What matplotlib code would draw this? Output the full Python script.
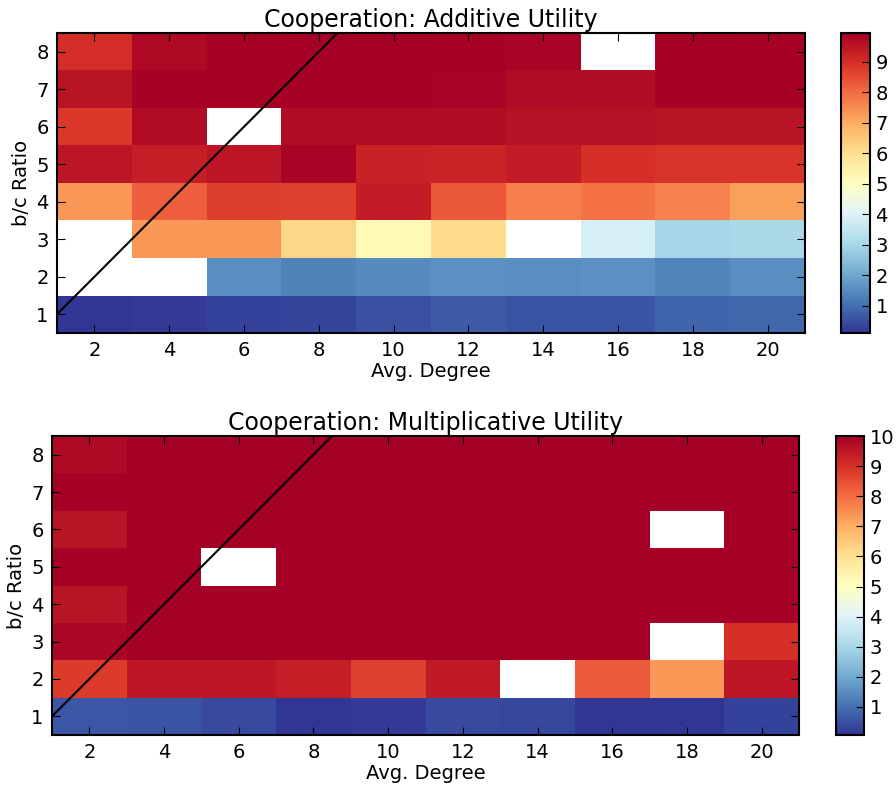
import numpy as np
import matplotlib
matplotlib.use("Agg")
import matplotlib.pyplot as plt

nan = np.nan

# average degree (columns) and b/c ratio (rows)
degrees = [2, 4, 6, 8, 10, 12, 14, 16, 18, 20]
ratios = [1, 2, 3, 4, 5, 6, 7, 8]

# cooperation values, one list per b/c ratio (row 1 first)
additive_rows = [
    [0.10, 0.20, 0.30, 0.35, 0.55, 0.70, 0.60, 0.60, 0.85, 0.90],
    [nan, nan, 1.55, 1.35, 1.45, 1.60, 1.55, 1.60, 1.40, 1.55],
    [nan, 7.30, 7.30, 6.20, 5.20, 6.10, nan, 3.85, 2.95, 3.05],
    [7.30, 8.20, 8.75, 8.70, 9.35, 8.30, 7.70, 7.90, 7.65, 7.20],
    [9.50, 9.30, 9.50, 9.85, 9.25, 9.20, 9.35, 8.95, 8.90, 8.90],
    [8.80, 9.70, nan, 9.70, 9.70, 9.65, 9.60, 9.60, 9.55, 9.55],
    [9.55, 9.90, 9.90, 9.90, 9.90, 9.85, 9.70, 9.65, 9.90, 9.90],
    [9.00, 9.75, 9.90, 9.95, 9.95, 9.90, 9.85, nan, 9.95, 9.90],
]

multiplicative_rows = [
    [0.60, 0.55, 0.40, 0.10, 0.15, 0.40, 0.35, 0.07, 0.10, 0.30],
    [8.80, 9.50, 9.50, 9.35, 8.75, 9.45, nan, 8.30, 7.35, 9.50],
    [9.85, 10.0, 10.0, 9.95, 9.95, 10.0, 10.0, 10.0, nan, 9.00],
    [9.60, 10.0, 10.0, 10.0, 10.0, 10.0, 10.0, 10.0, 10.0, 10.0],
    [9.95, 10.0, nan, 10.0, 10.0, 10.0, 10.0, 10.0, 10.0, 10.0],
    [9.60, 10.0, 10.0, 10.0, 10.0, 10.0, 10.0, 10.0, nan, 10.0],
    [9.95, 10.0, 10.0, 10.0, 10.0, 10.0, 10.0, 10.0, 10.0, 10.0],
    [9.80, 10.0, 10.0, 10.0, 10.0, 10.0, 10.0, 10.0, 10.0, 10.0],
]

fig = plt.figure(figsize=(8.96, 7.86), dpi=100)
W, H = 896.0, 786.0

def box(l, t, r, b):
    return [l / W, 1 - b / H, (r - l) / W, (b - t) / H]

panels = [
    ("Cooperation: Additive Utility", additive_rows, box(57, 33, 805, 333),
     box(841, 33, 870, 333), list(range(1, 10))),
    ("Cooperation: Multiplicative Utility", multiplicative_rows, box(52, 436, 799, 735),
     box(836, 436, 864, 735), list(range(1, 11))),
]

dx = degrees[1] - degrees[0]
x_edges = [d - dx / 2 for d in degrees] + [degrees[-1] + dx / 2]
y_edges = [r - 0.5 for r in ratios] + [ratios[-1] + 0.5]

for title, rows, ax_box, cb_box, cb_ticks in panels:
    ax = fig.add_axes(ax_box)
    data = np.ma.masked_invalid(np.array(rows))
    mesh = ax.pcolormesh(x_edges, y_edges, data, cmap="RdYlBu_r",
                         vmin=np.nanmin(rows), vmax=np.nanmax(rows))
    # b/c = k threshold line
    ax.plot([x_edges[0], x_edges[-1]], [x_edges[0], x_edges[-1]], color="black", lw=1.5)
    ax.set_xlim(x_edges[0], x_edges[-1])
    ax.set_ylim(y_edges[0], y_edges[-1])
    ax.set_xticks(degrees)
    ax.set_yticks(ratios)
    ax.tick_params(direction="in", top=True, right=True, labelsize=14, length=6, pad=6)
    for s in ax.spines.values():
        s.set_linewidth(1.5)
    ax.set_title(title, fontsize=17, pad=4)
    ax.set_xlabel("Avg. Degree", fontsize=14, labelpad=1)
    ax.set_ylabel("b/c Ratio", fontsize=14, labelpad=4)

    cax = fig.add_axes(cb_box)
    cb = fig.colorbar(mesh, cax=cax)
    cb.set_ticks(cb_ticks)
    cb.ax.tick_params(direction="in", labelsize=14, length=6, pad=4)
    cb.outline.set_linewidth(1.5)

fig.savefig("out.png", dpi=100)
